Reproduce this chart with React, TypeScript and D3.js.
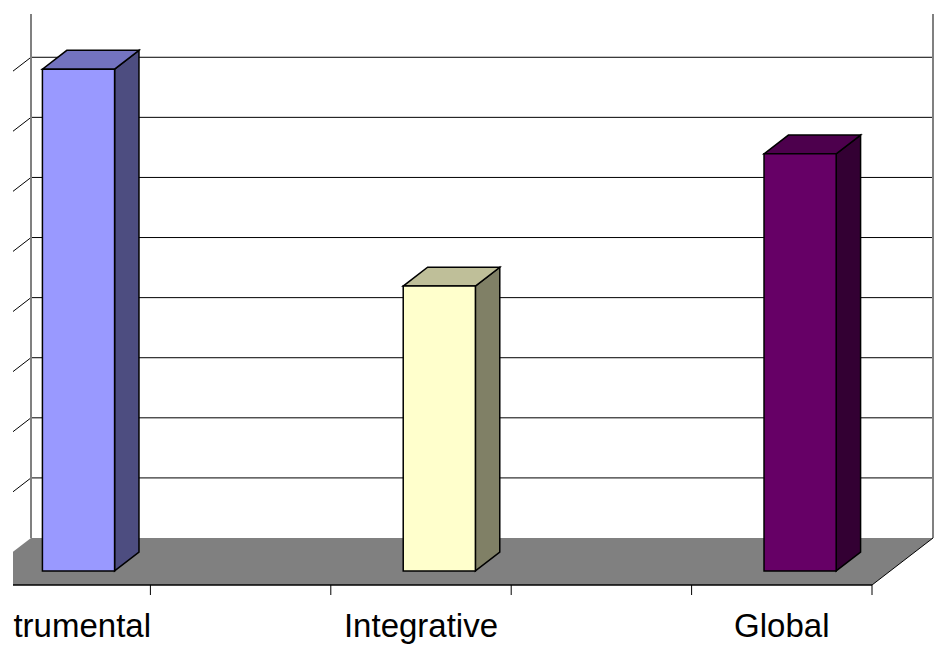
import * as d3 from 'd3';

// category slots: the blank ones hold no bar, Excel skips their labels
const categories = ['Instrumental', '', 'Integrative', '', 'Global'];
const values: (number | null)[] = [83.5, null, 47.4, null, 69.4];
const yTicks = [10, 20, 30, 40, 50, 60, 70, 80];

const faceColors = ['#9999FF', '', '#FFFFCC', '', '#660066'];

const WIDTH = 952;
const HEIGHT = 647;
const CLIP_X = 13;
// oblique depth vector (full floor depth)
const DEPTH = { dx: 61, dy: -47 };
const BAR_DEPTH = 0.4;
const BAR_Z0 = (1 - BAR_DEPTH) / 2;

export default function App() {
  const x = d3.scaleBand<number>().domain(d3.range(categories.length)).range([-30, 872]).paddingInner(0).paddingOuter(0);
  const y = d3.scaleLinear().domain([0, 87.2]).range([585, 61]);

  const bw = x.bandwidth();
  const barW = bw / 2.5; // gap width 150%

  // project (px, value, depth fraction) to screen
  const P = (px: number, v: number, z: number): [number, number] => [px + z * DEPTH.dx, y(v) + z * DEPTH.dy];
  const pts = (arr: [number, number][]) => arr.map((p) => p.join(',')).join(' ');

  const x0 = x.range()[0];
  const x1 = x.range()[1];
  const wallTop = y.domain()[1];

  const floor = pts([P(x0, 0, 0), P(x1, 0, 0), P(x1, 0, 1), P(x0, 0, 1)]);

  const shade = (c: string, k: number) => {
    const rgb = d3.rgb(c);
    return d3.rgb(rgb.r * k, rgb.g * k, rgb.b * k).formatHex();
  };

  return (
    <svg
      width={WIDTH}
      height={HEIGHT}
      style={{ position: 'absolute', left: 0, top: 0, background: '#fff' }}
      fontFamily="'Liberation Sans', Arial, sans-serif"
    >
      <defs>
        <clipPath id="crop">
          <rect x={CLIP_X} y={0} width={WIDTH - CLIP_X} height={HEIGHT} />
        </clipPath>
      </defs>
      <g clipPath="url(#crop)">
        {/* back wall + side wall gridlines */}
        {yTicks.map((t) => {
          const [bx0, by] = P(x0, t, 1);
          const [bx1] = P(x1, t, 1);
          const [sx, sy] = P(x0, t, 0);
          return (
            <g key={t}>
              <line x1={bx0} y1={by} x2={bx1} y2={by} stroke="#000" strokeWidth={1} />
              <line x1={bx0} y1={by} x2={sx} y2={sy} stroke="#000" strokeWidth={1} />
            </g>
          );
        })}

        {/* wall corners */}
        <line x1={P(x0, 0, 1)[0]} y1={P(x0, wallTop, 1)[1]} x2={P(x0, 0, 1)[0]} y2={P(x0, 0, 1)[1]} stroke="#808080" strokeWidth={2} />
        <line x1={P(x1, 0, 1)[0]} y1={P(x1, wallTop, 1)[1]} x2={P(x1, 0, 1)[0]} y2={P(x1, 0, 1)[1]} stroke="#808080" strokeWidth={2} />

        {/* floor */}
        <polygon points={floor} fill="#808080" />
        <line x1={P(x0, 0, 0)[0]} y1={y(0)} x2={P(x1, 0, 0)[0]} y2={y(0)} stroke="#000" strokeWidth={1.5} />
        <line x1={P(x1, 0, 0)[0]} y1={P(x1, 0, 0)[1]} x2={P(x1, 0, 1)[0]} y2={P(x1, 0, 1)[1]} stroke="#000" strokeWidth={1} />

        {/* category ticks */}
        {d3.range(categories.length + 1).map((i) => {
          const tx = x0 + i * bw;
          return <line key={i} x1={tx} y1={y(0)} x2={tx} y2={y(0) + 10} stroke="#000" strokeWidth={1} />;
        })}

        {/* bars */}
        {values.map((v, i) => {
          if (v == null) return null;
          const c = faceColors[i];
          const l = (x(i) ?? 0) + (bw - barW) / 2;
          const r = l + barW;
          const za = BAR_Z0;
          const zb = BAR_Z0 + BAR_DEPTH;
          const front = pts([P(l, 0, za), P(r, 0, za), P(r, v, za), P(l, v, za)]);
          const top = pts([P(l, v, za), P(r, v, za), P(r, v, zb), P(l, v, zb)]);
          const side = pts([P(r, 0, za), P(r, 0, zb), P(r, v, zb), P(r, v, za)]);
          return (
            <g key={i} stroke="#000" strokeWidth={1.5} strokeLinejoin="miter">
              <polygon points={side} fill={shade(c, 0.5)} />
              <polygon points={top} fill={shade(c, 0.75)} />
              <polygon points={front} fill={c} />
            </g>
          );
        })}

        {/* category labels */}
        {categories.map((c, i) =>
          c ? (
            <text key={i} x={(x(i) ?? 0) + bw / 2} y={637} textAnchor="middle" fontSize={33} fill="#000">
              {c}
            </text>
          ) : null
        )}
      </g>
    </svg>
  );
}
